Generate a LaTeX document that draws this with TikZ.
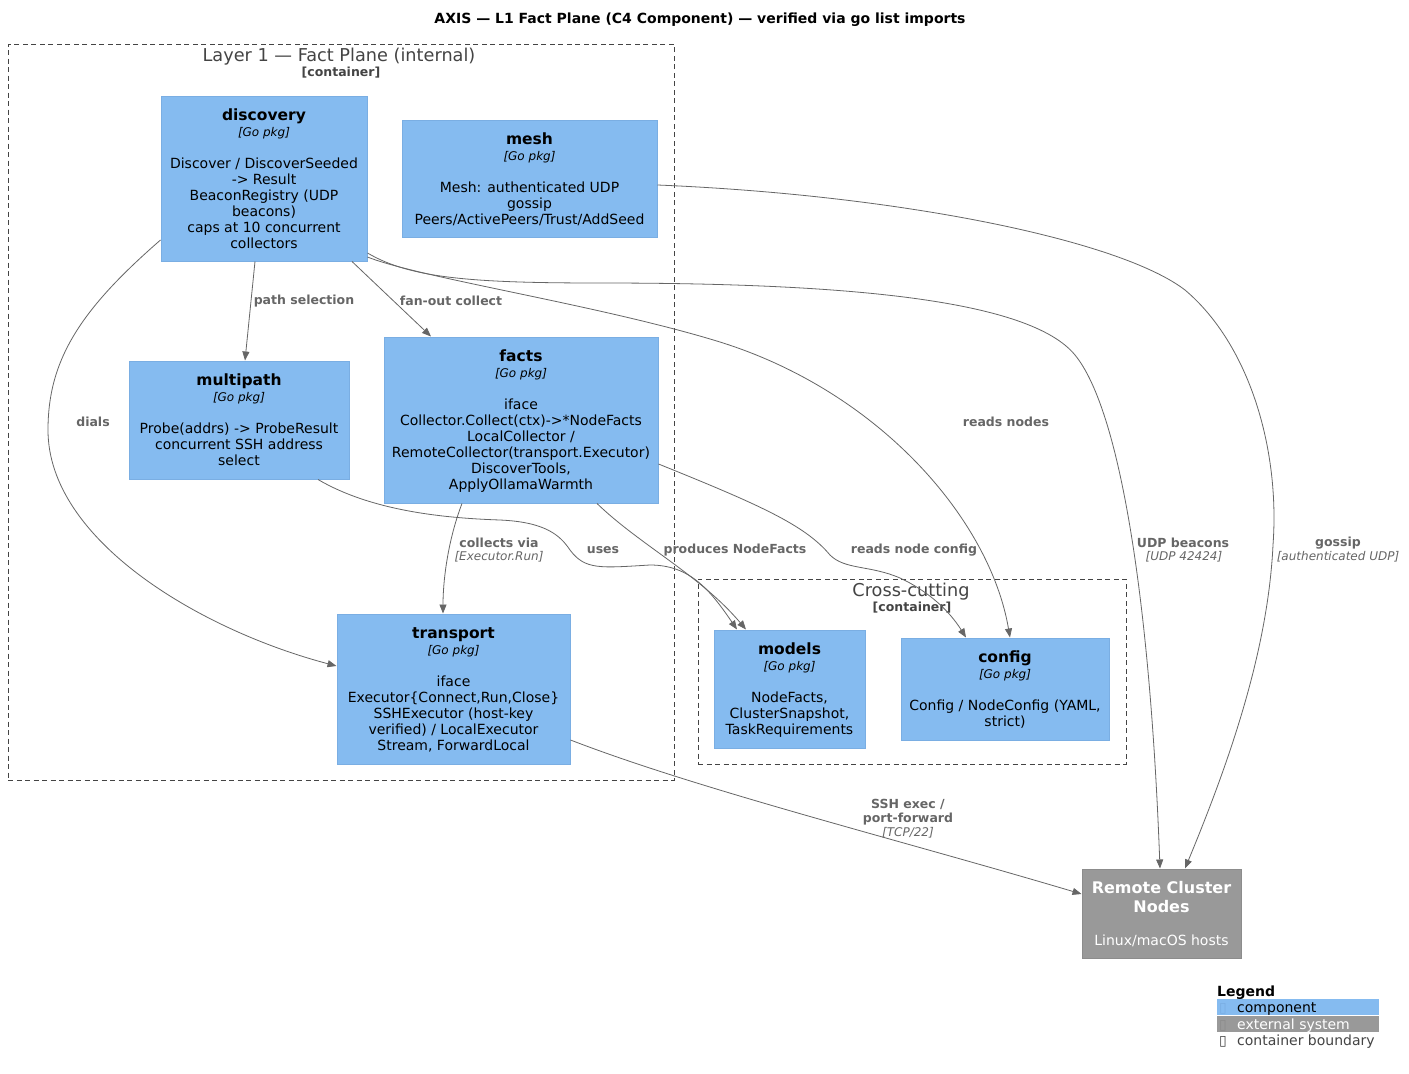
\documentclass[tikz,border=0pt]{standalone}
\usepackage{fontspec}
\setmainfont{DejaVu Sans}
\usetikzlibrary{arrows.meta,calc}
\definecolor{compfill}{HTML}{85BBF0}
\definecolor{compdraw}{HTML}{7AAEE3}
\definecolor{extfill}{HTML}{999999}
\definecolor{extdraw}{HTML}{8C8C8C}
\definecolor{edgecol}{HTML}{666666}
\definecolor{bndcol}{HTML}{444444}
\newcommand\fz[2]{\fontsize{#1}{#2}\selectfont}
\newcommand\namef{\fontsize{15.5}{16}\selectfont\bfseries}
\newcommand\pkgf{\fontsize{12}{16}\selectfont\itshape}
\begin{document}
\begin{tikzpicture}[x=1pt,y=-1pt,
  comp/.style={draw=compdraw, fill=compfill, line width=1pt, inner sep=0pt, align=center, font=\fz{14}{16}, text=black, text depth=0pt},
  ext/.style={draw=extdraw, fill=extfill, line width=1pt, inner sep=0pt, align=center, font=\fz{14}{19}, text=white, text depth=0pt},
  bnd/.style={draw=bndcol, dash pattern=on 5pt off 3.5pt, line width=0.9pt, inner sep=0pt},
  bndtitle/.style={text=bndcol, font=\fz{17.7}{20}, inner sep=0pt},
  bndtag/.style={text=bndcol, font=\fz{12.5}{14}\bfseries, inner sep=0pt},
  rel/.style={draw=edgecol, line width=0.8pt, -{Triangle[length=9pt,width=7pt]}},
  elab/.style={text=edgecol, font=\fz{12.5}{14}\bfseries, align=center, inner sep=0pt},
  etech/.style={text=edgecol, font=\fz{12}{14}\itshape, inner sep=0pt},
  legtext/.style={font=\fz{14}{16}, inner sep=0pt, anchor=west},
]
\useasboundingbox (0,0) rectangle (1409,1074);
\fill[white] (0,0) rectangle (1409,1074);

% title
\node[font=\fz{14}{16}\bfseries, inner sep=0pt] (title) at (700,20) {AXIS — L1 Fact Plane (C4 Component) — verified via go list imports};

% boundaries
\node[bnd, minimum width=666, minimum height=736] (l1) at (341,412) {};
\node[bndtitle] (l1title) at (339,57) {Layer 1 — Fact Plane (internal)};
\node[bndtag] (l1tag) at (341,73) {[container]};

\node[bnd, minimum width=428, minimum height=185] (cross) at (912,671.5) {};
\node[bndtitle] (crosstitle) at (911,592) {Cross-cutting};
\node[bndtag] (crosstag) at (912,608) {[container]};

% components
\node[comp, minimum width=206, minimum height=165] (discovery) at (264,178.5)
 {{\namef discovery}\\{\pkgf [Go pkg]}\\[16pt]Discover / DiscoverSeeded\\-> Result\\BeaconRegistry (UDP\\beacons)\\caps at 10 concurrent\\collectors};
\node[comp, minimum width=255, minimum height=117] (mesh) at (529.5,178.5)
 {{\namef mesh}\\{\pkgf [Go pkg]}\\[16pt]Mesh: authenticated UDP\\gossip\\Peers/ActivePeers/Trust/AddSeed};
\node[comp, minimum width=220, minimum height=118] (multipath) at (239,420)
 {{\namef multipath}\\{\pkgf [Go pkg]}\\[16pt]Probe(addrs) -> ProbeResult\\concurrent SSH address\\select};
\node[comp, minimum width=274, minimum height=166] (facts) at (521,420)
 {{\namef facts}\\{\pkgf [Go pkg]}\\[16pt]iface\\Collector.Collect(ctx)->*NodeFacts\\LocalCollector /\\RemoteCollector(transport.Executor)\\DiscoverTools,\\ApplyOllamaWarmth};
\node[comp, minimum width=233, minimum height=150] (transport) at (453.5,689)
 {{\namef transport}\\{\pkgf [Go pkg]}\\[16pt]iface\\Executor\{Connect,Run,Close\}\\SSHExecutor (host-key\\verified) / LocalExecutor\\Stream, ForwardLocal};
\node[comp, minimum width=151, minimum height=118] (models) at (789.5,689)
 {{\namef models}\\{\pkgf [Go pkg]}\\[16pt]NodeFacts,\\ClusterSnapshot,\\TaskRequirements};
\node[comp, minimum width=208, minimum height=102] (config) at (1005,689)
 {{\namef config}\\{\pkgf [Go pkg]}\\[16pt]Config / NodeConfig (YAML,\\strict)};
\node[ext, minimum width=159, minimum height=89] (remote) at (1161.5,913.5)
 {{\fz{16}{19}\bfseries Remote Cluster}\\{\fz{16}{19}\bfseries Nodes}\\[14pt]Linux/macOS hosts};

% relations
\draw[rel] ([xshift=-9pt]discovery.south) -- ([xshift=6pt]multipath.north);
\draw[rel] ([xshift=88pt]discovery.south) -- ([xshift=-90pt]facts.north);
\draw[rel] ([yshift=-61.5pt]discovery.west) .. controls (80,310) and (48,360) .. (48,430)
  .. controls (48,540) and (200,630) .. ([yshift=23pt]transport.west);
\draw[rel] ([yshift=-74.5pt]discovery.east) .. controls (410,278) and (470,283) .. (600,283)
  .. controls (850,283) and (1030,300) .. (1075,355)
  .. controls (1120,410) and (1150,600) .. ([xshift=-1.5pt]remote.north);
\draw[rel] ([yshift=-78.5pt]discovery.east) .. controls (420,278) and (600,305) .. (720,342)
  .. controls (880,392) and (990,520) .. ([xshift=5pt]config.north);
\draw[rel] ([yshift=-6.5pt]mesh.east) .. controls (900,195) and (1120,240) .. (1185,290)
  .. controls (1250,345) and (1280,450) .. (1273,545)
  .. controls (1268,650) and (1230,760) .. ([xshift=23.5pt]remote.north);
\draw[rel] ([xshift=79pt]multipath.south) .. controls (370,510) and (440,518) .. (500,520)
  .. controls (545,522) and (560,535) .. (570,550)
  .. controls (585,570) and (600,568) .. (650,565)
  .. controls (690,565) and (710,590) .. ([xshift=-52.5pt]models.north);
\draw[rel] ([xshift=-59pt]facts.south) .. controls (448,540) and (443,580) .. ([xshift=-10.5pt]transport.north);
\draw[rel] ([xshift=76pt]facts.south) .. controls (640,545) and (700,575) .. ([xshift=-43.5pt]models.north);
\draw[rel] ([yshift=-44pt]facts.east) .. controls (760,505) and (805,525) .. (830,555)
  .. controls (845,570) and (870,565) .. (900,578)
  .. controls (930,592) and (950,612) .. ([xshift=-39pt]config.north);
\draw[rel] ([yshift=-51pt]transport.east) .. controls (700,790) and (900,840) .. ([yshift=19.5pt]remote.west);

% relation labels
\node[elab] (lpath) at (304,301) {path selection};
\node[elab] (lfan) at (451,301) {fan-out collect};
\node[elab] (ldials) at (93,422) {dials};
\node[elab] (lreads) at (1006,422) {reads nodes};
\node[elab] (luses) at (603,550) {uses};
\node[elab] (lcoll) at (499,543) {collects via};
\node[etech] (lcollt) at (499,557) {[Executor.Run]};
\node[elab] (lprod) at (735,550) {produces NodeFacts};
\node[elab] (lrnc) at (914,550) {reads node config};
\node[elab] (ludp) at (1183,543) {UDP beacons};
\node[etech] (ludpt) at (1184,557) {[UDP 42424]};
\node[elab] (lgos) at (1338,543) {gossip};
\node[etech] (lgost) at (1338,557) {[authenticated UDP]};
\node[elab] (lssh) at (908,812) {SSH exec /\\port-forward};
\node[etech] (lssht) at (908,833) {[TCP/22]};

% legend
\node[font=\fz{14}{16}\bfseries, inner sep=0pt, anchor=west] (legtitle) at (1217,993) {Legend};
\fill[compfill] (1217,999) rectangle (1379,1015);
\fill[extfill] (1217,1016) rectangle (1379,1032);
\node[legtext, text=compdraw] (lg1) at (1219,1009) {▯};
\node[legtext, text=black] (lg1t) at (1237,1009) {component};
\node[legtext, text=extdraw] (lg2) at (1219,1026) {▯};
\node[legtext, text=white] (lg2t) at (1237,1026) {external system};
\node[legtext, text=bndcol] (lg3) at (1219,1042) {▯};
\node[legtext, text=bndcol] (lg3t) at (1237,1042) {container boundary};
\end{tikzpicture}
\end{document}
